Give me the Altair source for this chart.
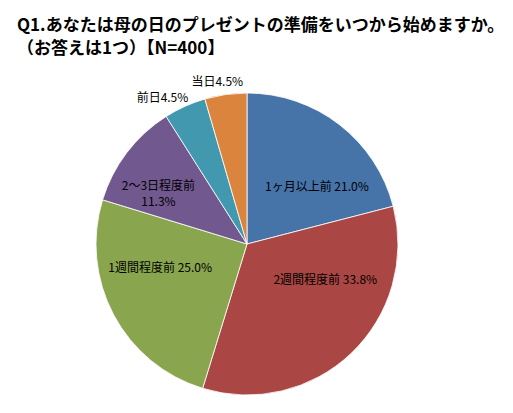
import altair as alt
import pandas as pd

categories = ["1ヶ月以上前", "2週間程度前", "1週間程度前", "2〜3日程度前", "前日", "当日"]
percents = [21.0, 33.8, 25.0, 11.3, 4.5, 4.5]
labels = ["1ヶ月以上前 21.0%", "2週間程度前 33.8%", "1週間程度前 25.0%",
          "2〜3日程度前\n11.3%", "前日4.5%", "当日4.5%"]
colors = ["#4673A8", "#AA4643", "#89A54E", "#71588F", "#4198AF", "#DB843D"]

df = pd.DataFrame({
    "category": categories,
    "percent": percents,
    "label": labels,
    "order": list(range(len(categories))),
})

base = alt.Chart(df).encode(
    theta=alt.Theta("percent:Q", stack=True),
    order=alt.Order("order:Q"),
)

pie = base.mark_arc(outerRadius=151, stroke="white", strokeWidth=0.8).encode(
    color=alt.Color("category:N", scale=alt.Scale(domain=categories, range=colors), legend=None)
)

# label placement like Excel's best fit: (radius, theta offset in radians)
placements = [(90, 0.23), (86, -0.38), (90, 0.22), (106, -0.07), (169, -0.10), (165, -0.04)]

layers = [pie]
for cat, (r, off) in zip(categories, placements):
    layers.append(
        base.mark_text(radius=r, thetaOffset=off, fontSize=12, lineBreak="\n", lineHeight=16,
                       font="Noto Sans CJK JP", color="black").encode(
            text="label:N",
            opacity=alt.condition(alt.datum.category == cat, alt.value(1), alt.value(0)),
        )
    )

chart = alt.layer(*layers).properties(
    width=478,
    height=322,
    autosize=alt.AutoSizeParams(type="none"),
    padding={"left": 0, "top": 75, "right": 19, "bottom": 0},
    title=alt.TitleParams(
        ["Q1.あなたは母の日のプレゼントの準備をいつから始めますか。", "（お答えは1つ）【N=400】"],
        anchor="start",
        frame="group",
        dx=9,
        offset=16,
        font="Noto Sans CJK JP",
        fontSize=17,
        fontWeight="bold",
        lineHeight=23,
        color="black",
    ),
).configure_view(stroke=None)

chart.save("out.html", embed_options={"renderer": "svg", "actions": False})
